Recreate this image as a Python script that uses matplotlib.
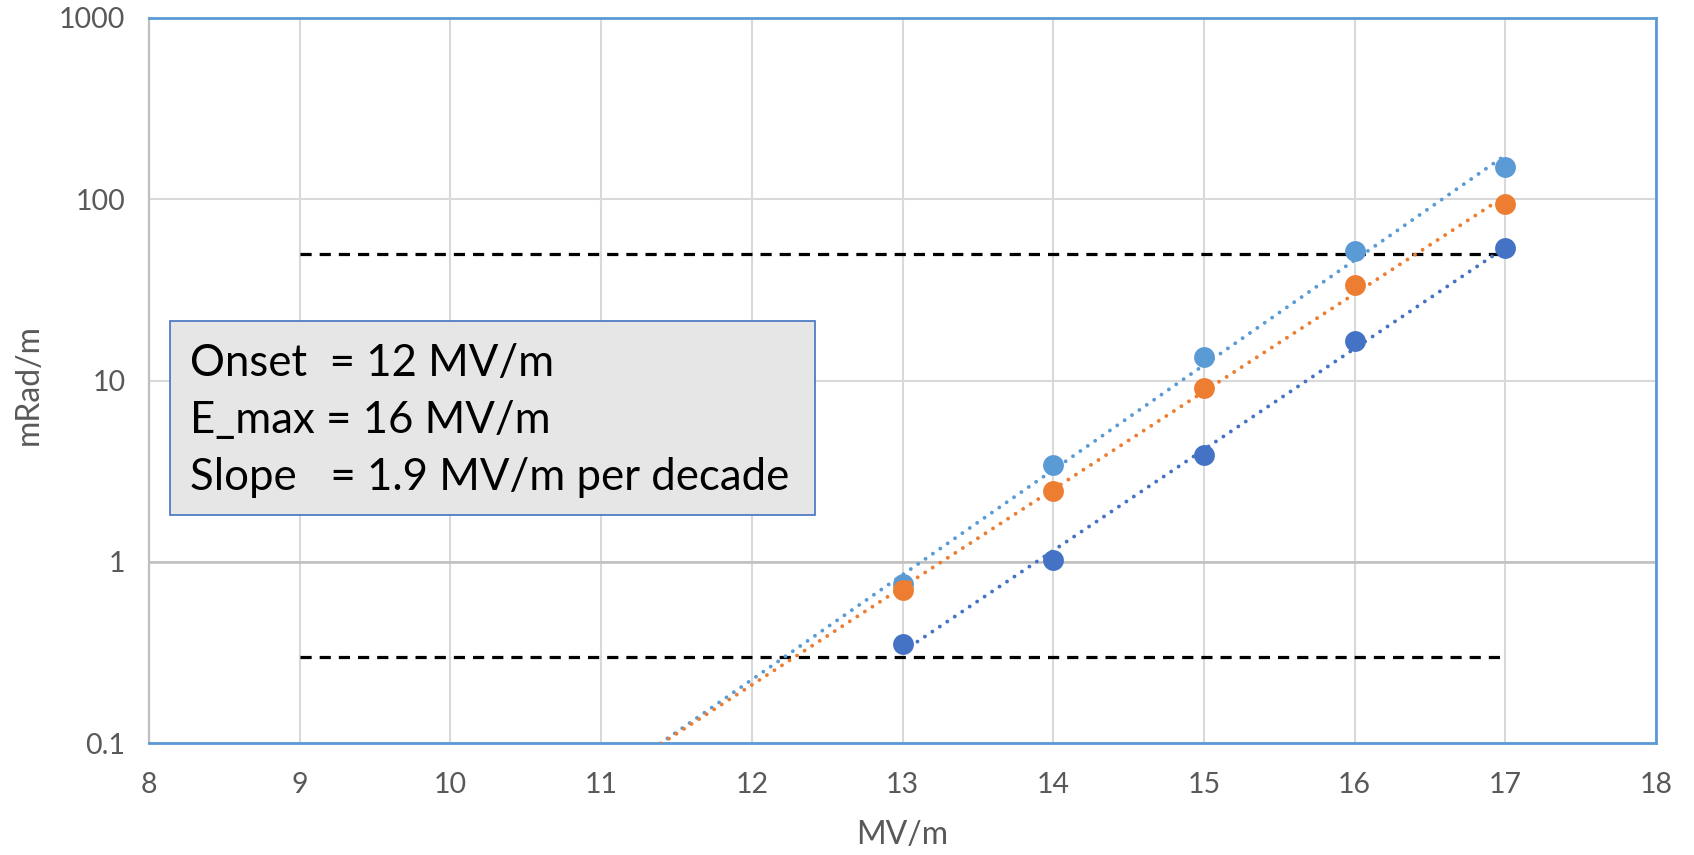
#!/usr/bin/env python3
import numpy as np
import matplotlib
matplotlib.use("Agg")
import matplotlib.pyplot as plt
from matplotlib.patches import Rectangle

plt.rcParams['font.family'] = ['Lato', 'DejaVu Sans']

# field (MV/m) and measured rate (mRad/m) per series
field = [13, 14, 15, 16, 17]
rate_a = [0.75, 3.4, 13.4, 52, 150]
rate_b = [0.70, 2.45, 9.1, 33.7, 94]
rate_c = [0.353, 1.02, 3.9, 16.5, 53.7]
series_colors = ['#5B9BD5', '#ED7D31', '#4472C4']
trend_start = [11, 11, 13]   # where each fitted trendline begins

# horizontal reference levels
ref_levels = [50, 0.3]
ref_span = [9, 17]

x_ticks = [8, 9, 10, 11, 12, 13, 14, 15, 16, 17, 18]
y_ticks = [0.1, 1, 10, 100, 1000]
y_tick_labels = ['0.1', '1', '10', '100', '1000']

info_lines = ['Onset  = 12 MV/m',
              'E_max = 16 MV/m',
              'Slope   = 1.9 MV/m per decade']

fig = plt.figure(figsize=(16.94, 8.55), dpi=100)
ax = fig.add_axes([149 / 1694, 1 - 743 / 855, (1656 - 149) / 1694, (743 - 18) / 855])
ax.set_yscale('log')
ax.set_xlim(8, 18)
ax.set_ylim(0.1, 1000)

grey_txt = '#595959'
ax.set_xticks(x_ticks)
ax.set_xticklabels([str(t) for t in x_ticks])
ax.set_yticks(y_ticks)
ax.set_yticklabels(y_tick_labels)
ax.minorticks_off()
ax.tick_params(length=0, labelsize=20.5, labelcolor=grey_txt)
ax.tick_params(axis='x', pad=21)
ax.tick_params(axis='y', pad=17)
ax.grid(True, color='#D9D9D9', lw=1.5)
ax.set_axisbelow(True)
# horizontal axis crosses at 1
ax.axhline(1, color='#BFBFBF', lw=1.8, zorder=1)

for side in ['top', 'right', 'bottom']:
    ax.spines[side].set_color('#5B9BD5')
    ax.spines[side].set_linewidth(2)
ax.spines['left'].set_color('#BFBFBF')
ax.spines['left'].set_linewidth(1.6)

ax.set_xlabel('MV/m', fontsize=23, color=grey_txt, va='center')
ax.set_ylabel('mRad/m', fontsize=23, color=grey_txt, va='center')
ax.xaxis.set_label_coords(0.5, -0.127)
ax.yaxis.set_label_coords(-0.0796, 0.495)

for lvl in ref_levels:
    ax.plot(ref_span, [lvl, lvl], color='black', lw=2.3,
            linestyle=(0, (3.5, 2.5)), zorder=2)

for vals, col, x0 in zip([rate_a, rate_b, rate_c], series_colors, trend_start):
    ax.plot(field, vals, 'o', color=col, ms=15, mec='none', zorder=3)
    # exponential trendline (linear fit in log space)
    k, b = np.polyfit(field, np.log10(vals), 1)
    xt = np.linspace(x0, field[-1], 200)
    ax.plot(xt, 10 ** (k * xt + b), color=col, lw=2.8,
            linestyle=(0, (0.01, 2.3)), dash_capstyle='round', zorder=4)

# annotation box
box = Rectangle((170 / 1694, 1 - 515 / 855), (815 - 170) / 1694, (515 - 321) / 855,
                transform=fig.transFigure, facecolor='#E7E6E6',
                edgecolor='#4472C4', lw=1.2, zorder=5)
fig.patches.append(box)
for i, line in enumerate(info_lines):
    fig.text(190 / 1694, 1 - (363 + 57 * i) / 855, line, fontsize=31.5,
             color='black', va='center', ha='left', zorder=6)

fig.savefig('out.png', dpi=100)
